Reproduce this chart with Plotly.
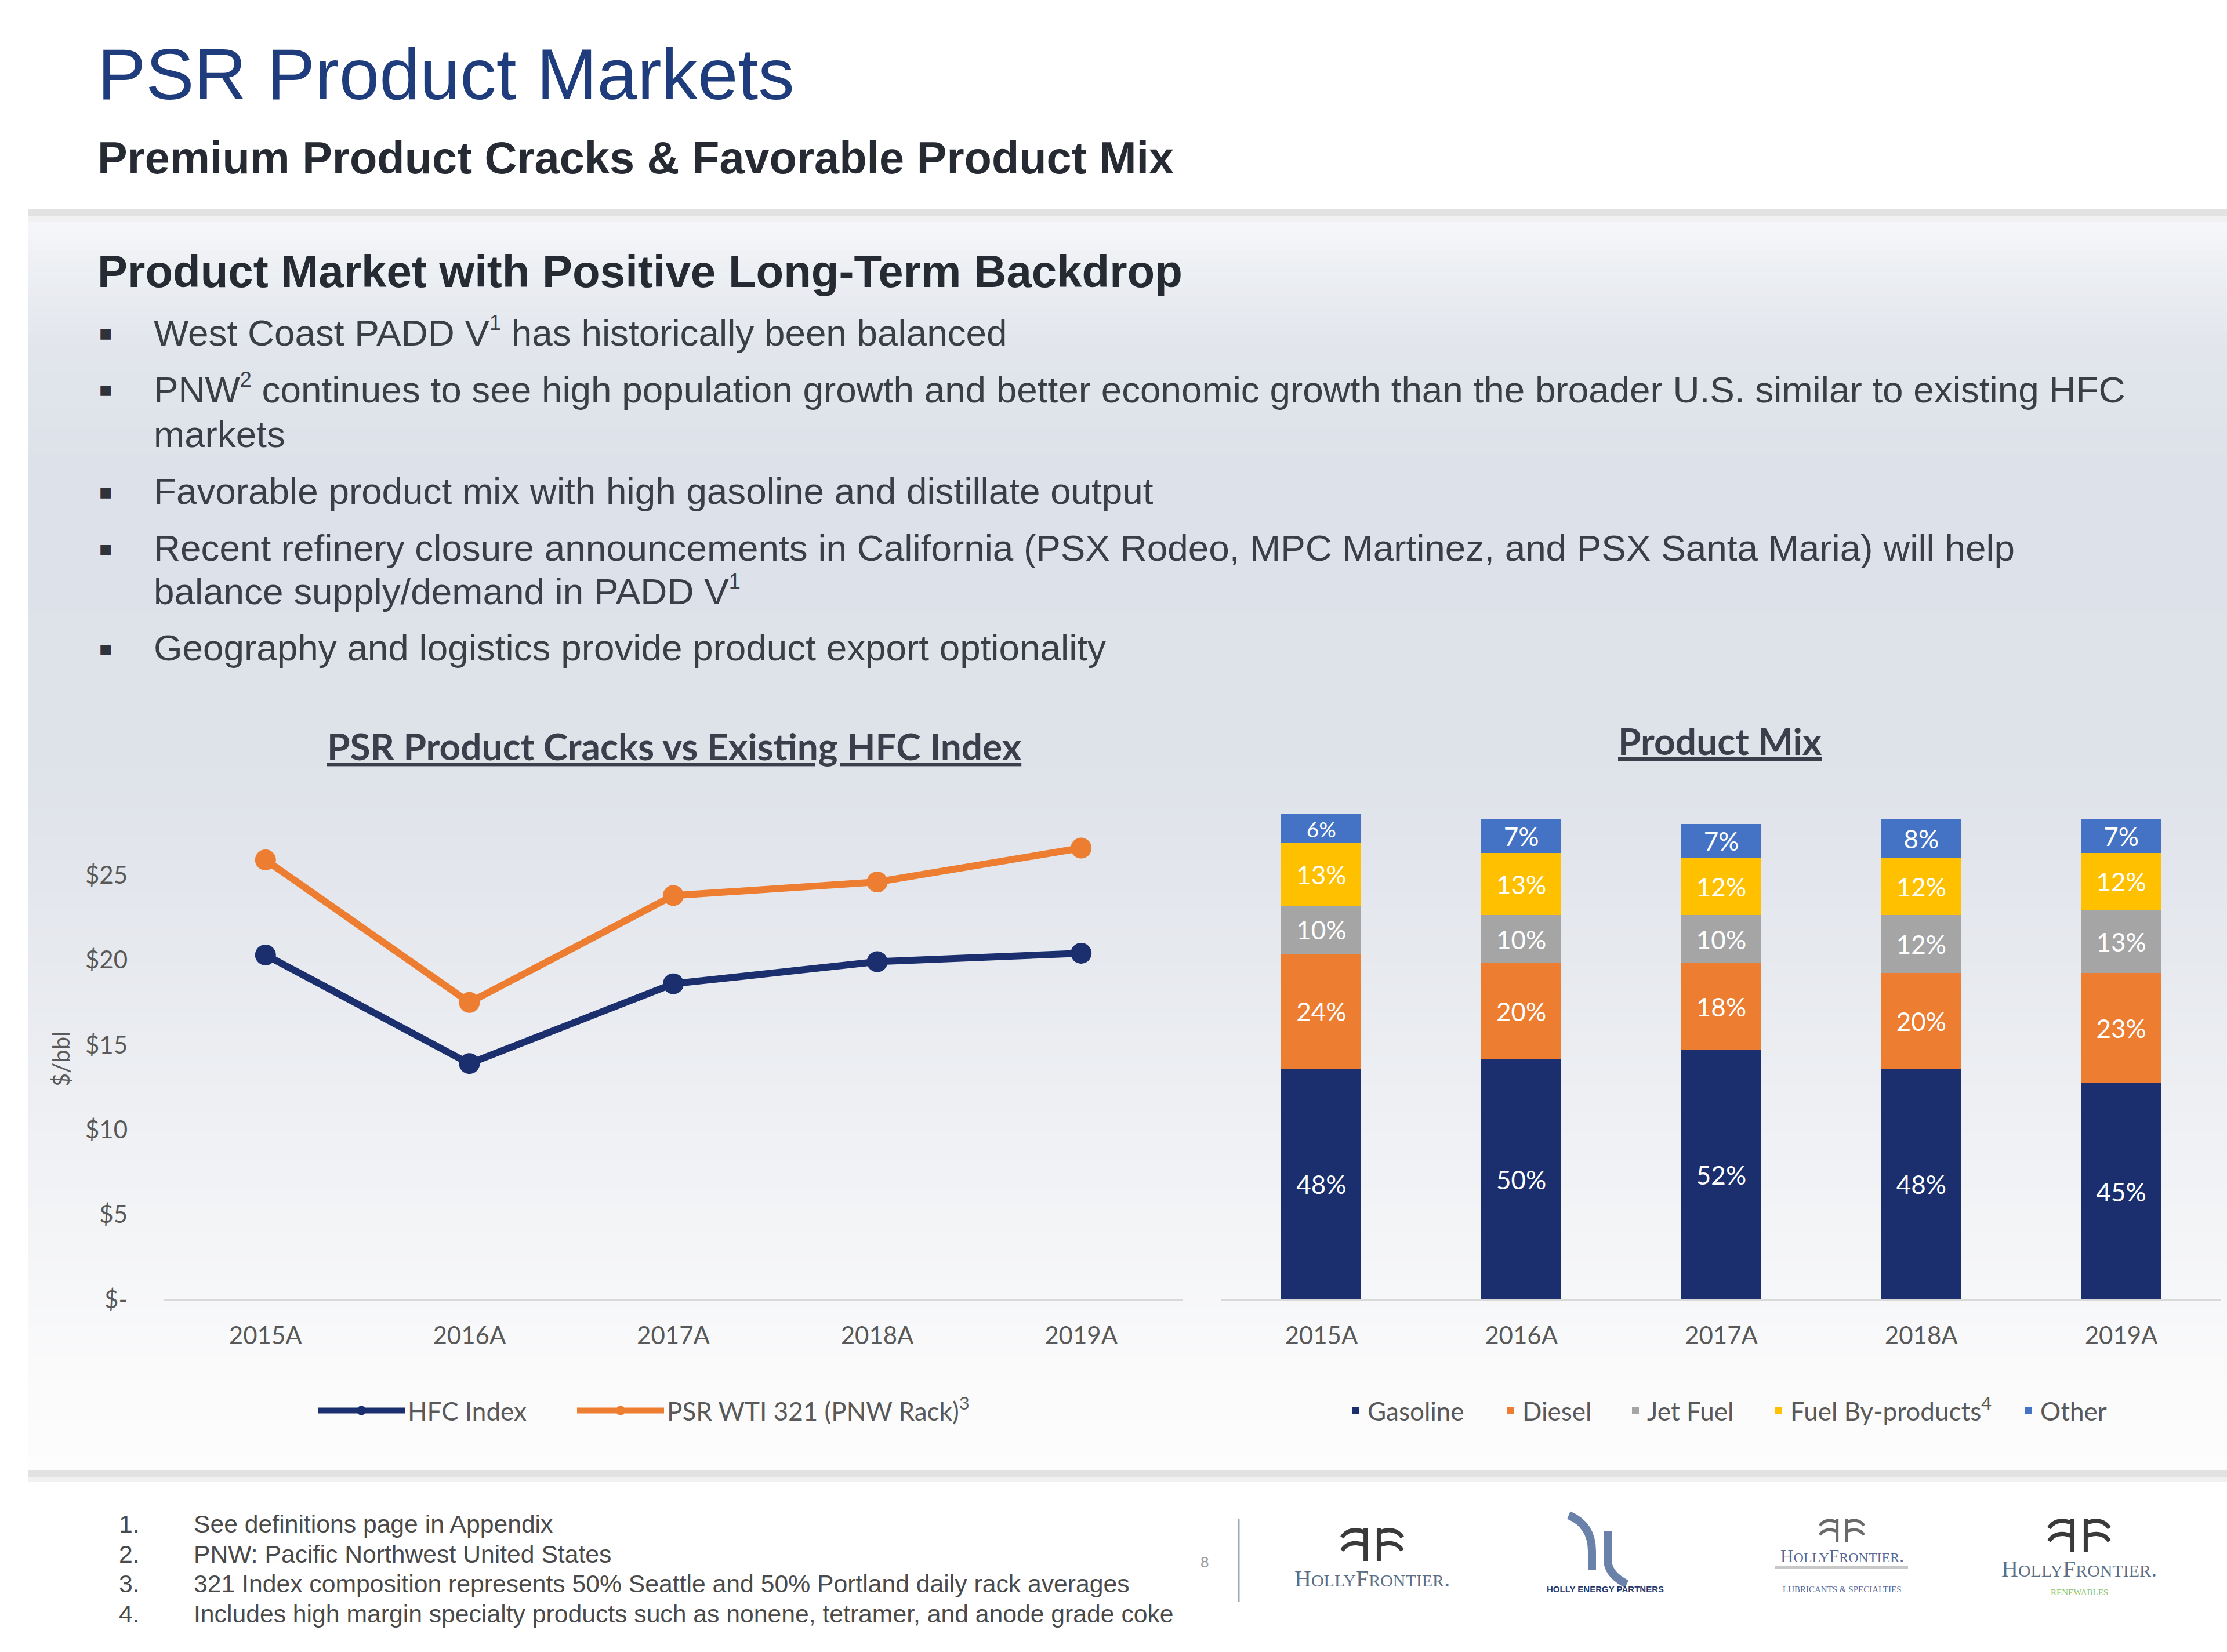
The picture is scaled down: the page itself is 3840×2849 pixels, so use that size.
import plotly.graph_objects as go

# ---------------- data ----------------
years = ["2015A", "2016A", "2017A", "2018A", "2019A"]
hfc_index = [20.3, 13.9, 18.6, 19.9, 20.4]
psr_wti321 = [25.9, 17.5, 23.8, 24.6, 26.6]

gasoline = [48, 50, 52, 48, 45]
diesel = [24, 20, 18, 20, 23]
jet_fuel = [10, 10, 10, 12, 13]
fuel_byproducts = [13, 13, 12, 12, 12]
other = [6, 7, 7, 8, 7]

y_tickvals = [0, 5, 10, 15, 20, 25]
y_ticktext = ["$-", "$5", "$10", "$15", "$20", "$25"]

SUP1 = "<sup><span style='font-size:36px'>1</span></sup>"
SUP2 = "<sup><span style='font-size:36px'>2</span></sup>"
bullets = [
    "West Coast PADD V" + SUP1 + " has historically been balanced",
    "PNW" + SUP2 + " continues to see high population growth and better economic growth than the broader U.S. similar to existing HFC",
    "markets",
    "Favorable product mix with high gasoline and distillate output",
    "Recent refinery closure announcements in California (PSX Rodeo, MPC Martinez, and PSX Santa Maria) will help",
    "balance supply/demand in PADD V" + SUP1,
    "Geography and logistics provide product export optionality",
]
bullet_marks = [True, True, False, True, True, False, True]

footnotes = [
    "See definitions page in Appendix",
    "PNW: Pacific Northwest United States",
    "321 Index composition represents 50% Seattle and 50% Portland daily rack averages",
    "Includes high margin specialty products such as nonene, tetramer, and anode grade coke",
]

# ---------------- styling ----------------
W, H = 3840, 2849
NAVY = "#1B2F6E"
ORANGE = "#ED7D31"
GRAY = "#A5A5A5"
GOLD = "#FFC000"
BLUE = "#4472C4"
TICK = "#595959"
CHART_FONT = "Lato"
BODY_FONT = "Liberation Sans, Arial, sans-serif"


def X(x):
    return x / W


def Y(y):
    return 1 - y / H


fig = go.Figure()

# line chart (each series with its own one-item legend for exact placement)
fig.add_trace(go.Scatter(
    x=years, y=hfc_index, name="HFC Index", mode="lines+markers",
    line=dict(color=NAVY, width=12), marker=dict(size=36, color=NAVY),
    xaxis="x", yaxis="y", legend="legend"))
fig.add_trace(go.Scatter(
    x=years, y=psr_wti321, name="PSR WTI 321 (PNW Rack)<sup>3</sup>", mode="lines+markers",
    line=dict(color=ORANGE, width=12), marker=dict(size=36, color=ORANGE),
    xaxis="x", yaxis="y", legend="legend3"))

# stacked bars
bar_series = [
    ("Gasoline", gasoline, NAVY, "legend2", 2359),
    ("Diesel", diesel, ORANGE, "legend4", 2626),
    ("Jet Fuel", jet_fuel, GRAY, "legend5", 2841),
    ("Fuel By-products<sup>4</sup>", fuel_byproducts, GOLD, "legend6", 3088),
    ("Other", other, BLUE, "legend7", 3519),
]
for name, vals, col, lg, _ in bar_series:
    fig.add_trace(go.Bar(
        x=years, y=vals, name=name, marker=dict(color=col, line=dict(width=0)),
        texttemplate="%{y}%", textposition="inside", insidetextanchor="middle",
        textfont=dict(color="white", size=44, family=CHART_FONT),
        xaxis="x2", yaxis="y2", legend=lg))

# ---------------- background shapes ----------------
shapes = []
stops = [
    (367, (248, 249, 251)),
    (450, (238, 240, 244)),
    (600, (226, 230, 236)),
    (800, (221, 225, 233)),
    (1300, (222, 226, 233)),
    (1550, (228, 231, 237)),
    (1850, (236, 238, 242)),
    (2150, (244, 245, 247)),
    (2350, (250, 250, 251)),
    (2536, (253, 253, 253)),
]


def col_at(y):
    for (y0, c0), (y1, c1) in zip(stops[:-1], stops[1:]):
        if y0 <= y <= y1:
            t = (y - y0) / (y1 - y0)
            return "rgb(%d,%d,%d)" % tuple(round(a + (b - a) * t) for a, b in zip(c0, c1))
    return "rgb(253,253,253)"


step = 16
y = 367
while y < 2536:
    y2 = min(y + step + 1, 2536)
    shapes.append(dict(type="rect", xref="paper", yref="paper", layer="below",
                       x0=X(49), x1=1, y0=Y(y2), y1=Y(y),
                       fillcolor=col_at(y + step / 2), line=dict(width=0)))
    y += step

for yy in (366, 2540):
    shapes.append(dict(type="rect", xref="paper", yref="paper", layer="below",
                       x0=X(49), x1=1, y0=Y(yy + 7), y1=Y(yy - 5),
                       fillcolor="#E2E2E2", line=dict(width=0)))
    shapes.append(dict(type="rect", xref="paper", yref="paper", layer="below",
                       x0=X(49), x1=1, y0=Y(yy + 16), y1=Y(yy + 7),
                       fillcolor="#F1F1F1", line=dict(width=0)))

shapes.append(dict(type="line", xref="paper", yref="paper",
                   x0=X(2136), x1=X(2136), y0=Y(2620), y1=Y(2763),
                   line=dict(color="#9AA8BE", width=3)))


def pth(points_cmds):
    out = []
    for cmd, pts in points_cmds:
        out.append(cmd + " " + " ".join("%.5f,%.5f" % (X(px), Y(py)) for px, py in pts))
    return " ".join(out)


def hf_icon(cx, cy, hw, hh, color, width):
    st = 0.22 * hw
    p = pth([
        ("M", [(cx - st, cy - hh)]), ("L", [(cx - st, cy + hh)]),
        ("M", [(cx + st, cy - hh)]), ("L", [(cx + st, cy + hh)]),
        ("M", [(cx - st, cy - 0.75 * hh)]), ("Q", [(cx - 0.75 * hw, cy - 1.15 * hh), (cx - hw, cy - 0.45 * hh)]),
        ("M", [(cx - st, cy + 0.05 * hh)]), ("Q", [(cx - 0.75 * hw, cy - 0.35 * hh), (cx - hw, cy + 0.35 * hh)]),
        ("M", [(cx + st, cy - 0.75 * hh)]), ("Q", [(cx + 0.75 * hw, cy - 1.15 * hh), (cx + hw, cy - 0.45 * hh)]),
        ("M", [(cx + st, cy + 0.05 * hh)]), ("Q", [(cx + 0.75 * hw, cy - 0.35 * hh), (cx + hw, cy + 0.35 * hh)]),
    ])
    return dict(type="path", xref="paper", yref="paper", path=p,
                line=dict(color=color, width=width))


shapes.append(hf_icon(2366, 2664, 52, 28, "#3A3A3A", 7))
shapes.append(hf_icon(3176, 2640, 38, 20, "#6A6A6A", 5))
shapes.append(hf_icon(3585, 2648, 52, 28, "#3A3A3A", 7))
shapes.append(dict(type="path", xref="paper", yref="paper",
                   path=pth([("M", [(2705, 2613)]), ("Q", [(2745, 2630), (2745, 2675)]), ("L", [(2745, 2708)])]),
                   line=dict(color="#6A82AA", width=14)))
shapes.append(dict(type="path", xref="paper", yref="paper",
                   path=pth([("M", [(2772, 2640)]), ("L", [(2772, 2690)]), ("Q", [(2772, 2715), (2805, 2732)])]),
                   line=dict(color="#6A82AA", width=14)))
shapes.append(dict(type="line", xref="paper", yref="paper",
                   x0=X(3060), x1=X(3290), y0=Y(2703), y1=Y(2703),
                   line=dict(color="#C8C8C8", width=4)))

# ---------------- annotations ----------------
ann = []


def text(x, y, s, size, color, family=BODY_FONT, xanchor="left", yanchor="middle", **kw):
    ann.append(dict(x=X(x), y=Y(y), xref="paper", yref="paper", text=s, showarrow=False,
                    xanchor=xanchor, yanchor=yanchor,
                    font=dict(size=size, color=color, family=family), **kw))


text(166, 128, "PSR Product Markets", 125, "#1F3D7C")
text(166, 272, "<b>Premium Product Cracks & Favorable Product Mix</b>", 77.5, "#262A33")
text(166, 468, "<b>Product Market with Positive Long-Term Backdrop</b>", 78, "#262A33")

bullet_y = [573, 671, 749, 847, 945, 1019, 1117]
for s, yy, mark in zip(bullets, bullet_y, bullet_marks):
    if mark:
        text(168, yy, "▪", 36, "#2E323A", family="DejaVu Sans")
    text(263, yy, s, 63.8, "#3A3E47")

text(1163, 1286, "<b><u>PSR Product Cracks vs Existing HFC Index</u></b>", 64, "#3A3F4B",
     family=CHART_FONT, xanchor="center")
text(2966, 1277, "<b><u>Product Mix</u></b>", 64, "#3A3F4B", family=CHART_FONT, xanchor="center")
text(105, 1826, "$/bbl", 40, TICK, family=CHART_FONT, xanchor="center", textangle=-90)

for i, s in enumerate(footnotes):
    yy = 2628 + i * 51.5
    text(203, yy, "%d." % (i + 1), 42.7, "#4A4A4A")
    text(332, yy, s, 42.7, "#4A4A4A")

text(2077, 2694, "8", 26, "#9A9A9A", xanchor="center")
SERIF = "Liberation Serif, DejaVu Serif, serif"
text(2366, 2722, "H<span style='font-size:30px'>OLLY</span>F<span style='font-size:30px'>RONTIER</span>.",
     40, "#5B7088", family=SERIF, xanchor="center")
text(2768, 2740, "<b>HOLLY ENERGY PARTNERS</b>", 15, "#24386E", family=BODY_FONT, xanchor="center")
text(3176, 2683, "H<span style='font-size:24px'>OLLY</span>F<span style='font-size:24px'>RONTIER</span>.",
     31, "#5A6A9A", family=SERIF, xanchor="center")
text(3176, 2741, "LUBRICANTS &amp; SPECIALTIES", 15, "#5A6A9A", family=SERIF, xanchor="center")
text(3585, 2705, "H<span style='font-size:30px'>OLLY</span>F<span style='font-size:30px'>RONTIER</span>.",
     40, "#5B7088", family=SERIF, xanchor="center")
text(3585, 2746, "RENEWABLES", 15, "#8CC56A", family=SERIF, xanchor="center")

# ---------------- layout ----------------
plot_bottom, plot_top = 2241, 1363
axis_common = dict(type="category", range=[-0.5, 4.5], showline=True, linecolor="#D9D9D9",
                   linewidth=3, showgrid=False, zeroline=False, ticks="",
                   tickfont=dict(family=CHART_FONT, size=42, color=TICK),
                   ticklabelstandoff=24, fixedrange=True, automargin=False)

legend_font = dict(family=CHART_FONT, size=44, color=TICK)
LEG_Y = Y(2433)


def leg(x_left, itemwidth=30):
    return dict(orientation="h", x=X(x_left), xanchor="left", y=LEG_Y, yanchor="middle",
                font=legend_font, itemwidth=itemwidth, bgcolor="rgba(0,0,0,0)", borderwidth=0)


legends = {
    "legend": leg(543, 150),
    "legend3": leg(990, 150),
}
for name, vals, col, lg, text_start in bar_series:
    legends[lg] = leg(text_start - 41, 30)

fig.update_layout(
    width=W, height=H, autosize=False,
    margin=dict(l=0, r=0, t=0, b=0, pad=0, autoexpand=False),
    paper_bgcolor="white", plot_bgcolor="rgba(0,0,0,0)",
    barmode="stack", bargap=0.6,
    showlegend=True,
    xaxis=dict(domain=[X(282), X(2040)], anchor="y", **axis_common),
    yaxis=dict(domain=[Y(plot_bottom), Y(plot_top)], anchor="x", range=[0, 30],
               tickvals=y_tickvals, ticktext=y_ticktext, showgrid=False, zeroline=False,
               showline=False, ticks="", tickfont=dict(family=CHART_FONT, size=42, color=TICK),
               ticklabelstandoff=61, fixedrange=True, automargin=False),
    xaxis2=dict(domain=[X(2106), X(3830)], anchor="y2", **axis_common),
    yaxis2=dict(domain=[Y(plot_bottom), Y(plot_top)], anchor="x2", range=[0, 106],
                visible=False, fixedrange=True, automargin=False),
    shapes=shapes,
    annotations=ann,
    **legends,
)

fig.write_html(
    "out.html",
    config={"displayModeBar": False},
    post_script="document.body.style.margin='0';document.body.style.overflow='hidden';",
)
